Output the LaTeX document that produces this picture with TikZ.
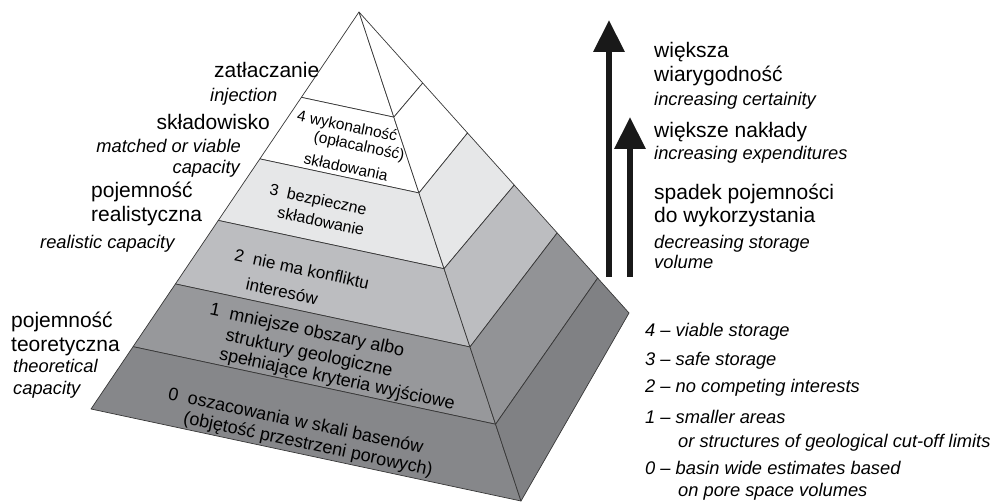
\documentclass[tikz,border=0pt]{standalone}
\usepackage{fontspec}
\setmainfont{Liberation Sans}
\usetikzlibrary{calc,arrows.meta}
\definecolor{lay3}{RGB}{230,231,232}
\definecolor{lay2}{RGB}{188,189,192}
\definecolor{lay1}{RGB}{151,152,155}
\definecolor{lay0}{RGB}{134,135,138}
\definecolor{side1}{RGB}{146,147,150}
\definecolor{side0}{RGB}{128,129,132}
\definecolor{edge}{RGB}{55,55,55}
\begin{document}
\begin{tikzpicture}[x=1pt,y=-1pt,
    pl/.style={font=\fontsize{21}{24}\selectfont,inner sep=0pt},
    en/.style={font=\fontsize{18.3}{21}\selectfont\itshape,inner sep=0pt},
    lt/.style={font=\fontsize{#1}{#1}\selectfont,inner sep=0pt,rotate=-12},
    arr/.style={line width=6.5pt,draw=black!90,-{Triangle[length=32pt,width=30pt]}}]
  \useasboundingbox (0,0) rectangle (996,502);

  % pyramid corners
  \coordinate (A) at (359,12);
  \coordinate (L) at (91,409);
  \coordinate (F) at (521,501);
  \coordinate (B) at (629,313);
  \coordinate (l0) at (A); \coordinate (r0) at (A); \coordinate (b0) at (A);
  \coordinate (l6) at (L); \coordinate (r6) at (F); \coordinate (b6) at (B);
  \foreach \i/\t/\s in {1/0.215/0.236, 2/0.37/0.402, 3/0.525/0.575, 4/0.685/0.734, 5/0.843/0.884}{
    \coordinate (l\i) at ($(A)!\t!(L)$);
    \coordinate (r\i) at ($(A)!\t!(F)$);
    \coordinate (b\i) at ($(A)!\s!(B)$);
  }

  % layers, front and side
  \foreach \i/\j/\cf/\cs in {0/1/white/white, 1/2/white/white, 2/3/lay3/lay3,
      3/4/lay2/lay2, 4/5/lay1/side1, 5/6/lay0/side0}{
    \filldraw[fill=\cf,draw=edge,line width=0.7pt,line join=round]
      (l\i) -- (r\i) -- (r\j) -- (l\j) -- cycle;
    \filldraw[fill=\cs,draw=edge,line width=0.7pt,line join=round]
      (r\i) -- (b\i) -- (b\j) -- (r\j) -- cycle;
  }

  % texts on the layers
  \node[lt=15.5] (t4a) at (347,127) {4 wykonalność};
  \node[lt=15.5] (t4b) at (359,147) {(opłacalność)};
  \node[lt=15.5] (t4c) at (346,167) {składowania};
  \node[lt=16] (t3a) at (318,201) {3~~bezpieczne};
  \node[lt=16] (t3b) at (321,221) {składowanie};
  \node[lt=17] (t2a) at (302,269) {2~~nie ma konfliktu};
  \node[lt=17] (t2b) at (282,291) {interesów};
  \node[lt=18] (t1a) at (307,331) {1~~mniejsze obszary albo};
  \node[lt=18] (t1b) at (309,354) {struktury geologiczne};
  \node[lt=18] (t1c) at (337,380) {spełniające kryteria wyjściowe};
  \node[lt=18] (t0a) at (296,420) {0~~oszacowania w skali basenów};
  \node[lt=18] (t0b) at (308,445) {(objętość przestrzeni porowych)};

  % labels on the left
  \node[pl,anchor=base west] (inj) at (214,78) {zatłaczanie};
  \node[en,anchor=base west] (injE) at (210,102) {injection};
  \node[pl,anchor=base east] (sto) at (270,130) {składowisko};
  \node[en,anchor=base east] (stoE) at (241,153) {matched or viable};
  \node[en,anchor=base east] (stoE2) at (240,174) {capacity};
  \node[pl,anchor=base west] (rea) at (91,198) {pojemność};
  \node[pl,anchor=base west] (rea2) at (91,222) {realistyczna};
  \node[en,anchor=base west] (reaE) at (40,249) {realistic capacity};
  \node[pl,anchor=base west] (theo) at (11,328) {pojemność};
  \node[pl,anchor=base west] (theo2) at (11,352) {teoretyczna};
  \node[en,anchor=base west] (theoE) at (13,373) {theoretical};
  \node[en,anchor=base west] (theoE2) at (13,395) {capacity};

  % arrows
  \coordinate (a1s) at (609,277); \coordinate (a1e) at (609,20);
  \coordinate (a2s) at (630,277); \coordinate (a2e) at (630,117);
  \draw[arr] (a1s) -- (a1e);
  \draw[arr] (a2s) -- (a2e);

  % labels on the right
  \node[pl,anchor=base west] (cer) at (654,58) {większa};
  \node[pl,anchor=base west] (cer2) at (654,82) {wiarygodność};
  \node[en,anchor=base west] (cerE) at (654,106) {increasing certainity};
  \node[pl,anchor=base west] (exp) at (654,137.5) {większe nakłady};
  \node[en,anchor=base west] (expE) at (654,160) {increasing expenditures};
  \node[pl,anchor=base west] (vol) at (654,199.5) {spadek pojemności};
  \node[pl,anchor=base west] (vol2) at (654,222.5) {do wykorzystania};
  \node[en,anchor=base west] (volE) at (654,249) {decreasing storage};
  \node[en,anchor=base west] (volE2) at (654,269) {volume};

  % legend
  \node[en,anchor=base west] (k4) at (645,337) {4 -- viable storage};
  \node[en,anchor=base west] (k3) at (645,366) {3 -- safe storage};
  \node[en,anchor=base west] (k2) at (645,393) {2 -- no competing interests};
  \node[en,anchor=base west] (k1) at (645,424) {1 -- smaller areas};
  \node[en,anchor=base west] (k1b) at (678,447) {or structures of geological cut-off limits};
  \node[en,anchor=base west] (k0) at (645,474) {0 -- basin wide estimates based};
  \node[en,anchor=base west] (k0b) at (678,496) {on pore space volumes};
\end{tikzpicture}
\end{document}
